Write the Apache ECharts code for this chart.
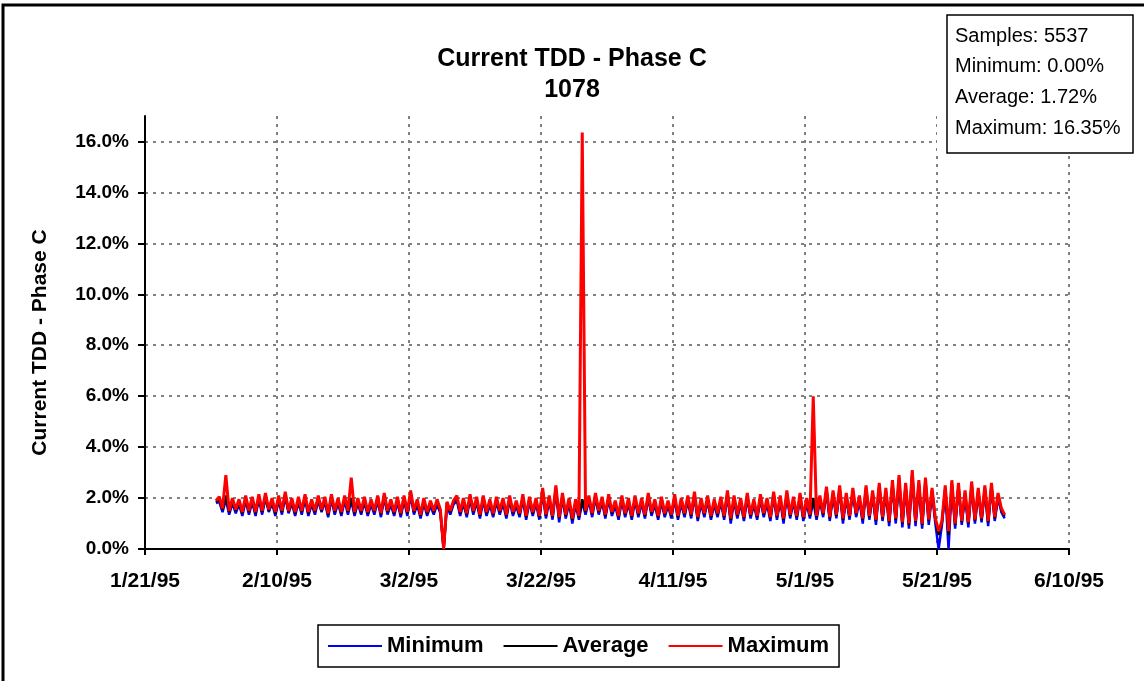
<!DOCTYPE html>
<html><head><meta charset="utf-8">
<script src="https://cdn.jsdelivr.net/npm/echarts@6/dist/echarts.min.js"></script>
<style>html,body{margin:0;padding:0;background:#fff}#c{width:1144px;height:681px}</style>
</head><body><div id="c"></div>
<script>
const FONT = '"Liberation Sans", Arial, sans-serif';
const titleLines = ['Current TDD - Phase C', '1078'];
const yAxisName = 'Current TDD - Phase C';
const statsLines = ['Samples: 5537', 'Minimum: 0.00%', 'Average: 1.72%', 'Maximum: 16.35%'];
const seriesNames = ['Minimum', 'Average', 'Maximum'];
const seriesColors = ['#0000FF', '#000000', '#FF0000'];
const xTickLabels = ['1/21/95', '2/10/95', '3/2/95', '3/22/95', '4/11/95', '5/1/95', '5/21/95', '6/10/95'];
const yTickValues = [0, 2, 4, 6, 8, 10, 12, 14, 16];
// sample times: days after 1/21/95, one reading every half day
const sampleStartDay = 10.75;
const sampleStepDay = 0.5;

const maxValues = [
  1.9,2.05, 1.6,2.9, 1.5,2.0, 1.55,1.95, 1.45,2.1, 1.5,2.05, 1.45,2.15,
  1.5,2.2, 1.55,2.0, 1.45,2.1, 1.5,2.25, 1.5,2.0, 1.45,2.05, 1.5,2.15,
  1.45,1.95, 1.5,2.1, 1.55,2.05, 1.4,2.15, 1.5,2.0, 1.45,2.1, 1.5,2.8,
  1.45,2.0, 1.5,2.05, 1.45,1.95, 1.5,2.1, 1.4,2.2, 1.5,1.95, 1.45,2.05,
  1.4,2.1, 1.45,2.3, 1.5,1.95, 1.35,2.0, 1.45,1.9, 1.5,1.95, 1.55,0,
  1.85,1.5, 1.9,2.1, 1.45,2.0, 1.4,2.15, 1.5,2.05, 1.35,2.1, 1.45,1.95,
  1.4,2.05, 1.5,2.0, 1.35,2.1, 1.45,1.9, 1.4,2.15, 1.3,2.05, 1.45,2.0,
  1.3,2.4, 1.35,2.1, 1.3,2.5, 1.25,2.2, 1.35,2.0, 1.2,1.95, 1.3,16.35,
  1.5,2.1, 1.4,2.2, 1.5,2.05, 1.35,2.15, 1.45,1.9, 1.3,2.1, 1.4,2.0,
  1.3,2.1, 1.4,2.0, 1.35,2.2, 1.45,1.95, 1.3,2.05, 1.4,1.9, 1.35,2.15,
  1.3,2.0, 1.4,2.1, 1.35,2.25, 1.25,2.0, 1.4,2.1, 1.3,1.95, 1.4,2.05,
  1.3,2.3, 1.2,2.1, 1.35,2.0, 1.25,2.2, 1.35,1.95, 1.3,2.15, 1.4,2.0,
  1.25,2.25, 1.3,2.1, 1.2,2.3, 1.35,2.05, 1.3,2.2, 1.25,2.0, 1.35,6.0,
  1.3,2.1, 1.4,2.45, 1.25,2.3, 1.35,2.5, 1.2,2.2, 1.3,2.4, 1.4,2.1,
  1.2,2.5, 1.3,2.3, 1.15,2.6, 1.25,2.4, 1.1,2.7, 1.2,2.9, 1.05,2.6,
  1.0,3.1, 1.1,2.7, 1.0,2.8, 1.15,2.4, 1.2,0.7, 1.1,2.5, 0.7,2.7,
  1.0,2.6, 1.1,2.3, 1.05,2.65, 1.15,2.4, 1.2,2.5, 1.1,2.6, 1.25,2.2,
  1.6,1.35
];
const avgValues = [
  1.85,1.95, 1.55,2.1, 1.45,1.9, 1.5,1.85, 1.4,2.0, 1.45,1.95, 1.4,2.05,
  1.45,2.1, 1.5,1.9, 1.4,2.0, 1.45,2.15, 1.45,1.9, 1.4,1.95, 1.45,2.05,
  1.4,1.85, 1.45,2.0, 1.5,1.95, 1.35,2.05, 1.45,1.9, 1.4,2.0, 1.45,2.0,
  1.4,1.9, 1.45,1.95, 1.4,1.85, 1.45,2.0, 1.35,2.1, 1.45,1.85, 1.4,1.95,
  1.35,2.0, 1.4,2.2, 1.45,1.85, 1.3,1.9, 1.4,1.8, 1.45,1.85, 1.5,0,
  1.8,1.45, 1.85,2.0, 1.4,1.9, 1.35,2.05, 1.45,1.95, 1.3,2.0, 1.4,1.85,
  1.35,1.95, 1.45,1.9, 1.3,2.0, 1.4,1.8, 1.35,2.05, 1.25,1.95, 1.4,1.9,
  1.25,2.3, 1.3,2.0, 1.25,2.4, 1.2,2.1, 1.3,1.9, 1.15,1.85, 1.25,1.95,
  1.45,2.0, 1.35,2.1, 1.45,1.95, 1.3,2.05, 1.4,1.8, 1.25,2.0, 1.35,1.9,
  1.25,2.0, 1.35,1.9, 1.3,2.1, 1.4,1.85, 1.25,1.95, 1.35,1.8, 1.3,2.05,
  1.25,1.9, 1.35,2.0, 1.3,2.15, 1.2,1.9, 1.35,2.0, 1.25,1.85, 1.35,1.95,
  1.25,2.2, 1.15,2.0, 1.3,1.9, 1.2,2.1, 1.3,1.85, 1.25,2.05, 1.35,1.9,
  1.2,2.15, 1.25,2.0, 1.15,2.2, 1.3,1.95, 1.25,2.1, 1.2,1.9, 1.3,2.0,
  1.25,2.0, 1.35,2.35, 1.2,2.2, 1.3,2.4, 1.15,2.1, 1.25,2.3, 1.35,2.0,
  1.15,2.4, 1.25,2.2, 1.1,2.5, 1.2,2.3, 1.05,2.6, 1.15,2.8, 1.0,2.5,
  0.95,3.0, 1.05,2.6, 0.95,2.7, 1.1,2.3, 1.15,0.55, 1.05,2.4, 0.55,2.6,
  0.95,2.5, 1.05,2.2, 1.0,2.55, 1.1,2.3, 1.15,2.4, 1.05,2.5, 1.2,2.1,
  1.55,1.3
];
const minValues = [
  1.8,1.85, 1.45,1.95, 1.35,1.8, 1.4,1.75, 1.3,1.9, 1.35,1.85, 1.3,1.95,
  1.35,2.0, 1.45,1.8, 1.3,1.9, 1.35,2.05, 1.4,1.8, 1.3,1.85, 1.35,1.95,
  1.3,1.75, 1.35,1.9, 1.45,1.85, 1.25,1.95, 1.35,1.8, 1.3,1.9, 1.35,1.9,
  1.3,1.8, 1.35,1.85, 1.3,1.75, 1.35,1.9, 1.25,2.0, 1.35,1.75, 1.3,1.85,
  1.25,1.9, 1.3,2.1, 1.35,1.75, 1.2,1.8, 1.3,1.7, 1.35,1.75, 1.4,0,
  1.7,1.35, 1.75,1.9, 1.3,1.8, 1.25,1.95, 1.35,1.85, 1.2,1.9, 1.3,1.75,
  1.25,1.85, 1.35,1.8, 1.2,1.9, 1.3,1.7, 1.25,1.95, 1.15,1.85, 1.3,1.8,
  1.15,2.2, 1.2,1.9, 1.15,2.3, 1.05,2.0, 1.2,1.8, 1.0,1.75, 1.15,1.85,
  1.35,1.9, 1.25,2.0, 1.35,1.85, 1.2,1.95, 1.3,1.7, 1.15,1.9, 1.25,1.8,
  1.15,1.9, 1.25,1.8, 1.2,2.0, 1.3,1.75, 1.15,1.85, 1.25,1.7, 1.2,1.95,
  1.15,1.8, 1.25,1.9, 1.2,2.05, 1.1,1.8, 1.25,1.9, 1.15,1.75, 1.25,1.85,
  1.15,2.1, 1.0,1.9, 1.2,1.8, 1.1,2.0, 1.2,1.75, 1.15,1.95, 1.25,1.8,
  1.1,2.05, 1.15,1.9, 1.0,2.1, 1.2,1.85, 1.15,2.0, 1.1,1.8, 1.2,1.9,
  1.15,1.9, 1.25,2.25, 1.1,2.1, 1.2,2.3, 1.0,2.0, 1.15,2.2, 1.25,1.9,
  1.0,2.3, 1.15,2.1, 0.95,2.4, 1.1,2.2, 0.9,2.5, 1.0,2.7, 0.85,2.4,
  0.8,2.9, 0.9,2.5, 0.8,2.6, 0.95,2.2, 1.0,0, 0.95,2.3, 0,2.5,
  0.8,2.4, 0.95,2.1, 0.85,2.45, 1.0,2.2, 1.05,2.3, 0.9,2.4, 1.1,2.0,
  1.45,1.2
];

function toPairs(vals) {
  return vals.map((v, i) => [sampleStartDay + i * sampleStepDay, v]);
}
const seriesValues = [minValues, avgValues, maxValues];
const seriesWidths = [2.5, 2.5, 3];

const gridLine = { color: '#808080', width: 2, type: [3, 5] };
const axisLineStyle = { color: '#000', width: 2 };

const chart = echarts.init(document.getElementById('c'), null, { renderer: 'canvas' });
chart.setOption({
  animation: false,
  backgroundColor: '#fff',
  title: {
    text: titleLines.join('\n'),
    left: 'center',
    top: 44,
    padding: [0, 0, 0, 12],
    textStyle: { fontFamily: FONT, fontSize: 25, fontWeight: 'bold', color: '#000', lineHeight: 31 }
  },
  legend: {
    data: seriesNames,
    left: 318,
    top: 625,
    icon: 'rect',
    itemWidth: 54,
    itemHeight: 2,
    itemGap: 20,
    padding: [10, 10],
    borderColor: '#000',
    borderWidth: 1.5,
    selectedMode: false,
    textStyle: { fontFamily: FONT, fontSize: 22, fontWeight: 'bold', color: '#000' }
  },
  grid: { left: 145, right: 75, top: 116, bottom: 132 },
  xAxis: {
    type: 'value',
    min: 0,
    max: 140,
    interval: 20,
    axisLine: { lineStyle: axisLineStyle },
    axisTick: { length: 6, lineStyle: axisLineStyle },
    axisLabel: {
      margin: 22,
      fontFamily: FONT, fontSize: 21, fontWeight: 'bold', color: '#000',
      formatter: v => xTickLabels[Math.round(v / 20)] || ''
    },
    splitLine: { show: true, showMinLine: false, lineStyle: gridLine }
  },
  yAxis: {
    type: 'value',
    min: 0,
    max: 17,
    interval: 2,
    name: yAxisName,
    nameLocation: 'middle',
    nameGap: 94,
    nameRotate: 90,
    nameTextStyle: { fontFamily: FONT, fontSize: 21, fontWeight: 'bold', color: '#000', padding: [0, 20, 0, 0] },
    axisLine: { show: true, lineStyle: axisLineStyle },
    axisTick: { show: true, length: 7, customValues: yTickValues, lineStyle: axisLineStyle },
    axisLabel: {
      margin: 16,
      customValues: yTickValues,
      fontFamily: FONT, fontSize: 19, fontWeight: 'bold', color: '#000',
      formatter: v => v.toFixed(1) + '%'
    },
    splitLine: { show: true, showMinLine: false, lineStyle: gridLine }
  },
  series: seriesNames.map((name, k) => ({
    name: name,
    type: 'line',
    data: toPairs(seriesValues[k]),
    showSymbol: false,
    symbol: 'none',
    sampling: null,
    silent: true,
    color: seriesColors[k],
    lineStyle: { color: seriesColors[k], width: seriesWidths[k] },
    z: 2 + k
  })),
  graphic: [
    { type: 'rect', z: 100, shape: { x: 3, y: 5, width: 1400, height: 900 }, style: { fill: 'none', stroke: '#000', lineWidth: 3 } },
    { type: 'rect', z: 100, shape: { x: 937, y: 8, width: 205, height: 147 }, style: { fill: '#fff' } },
    { type: 'rect', z: 101, shape: { x: 947, y: 15, width: 186, height: 138 }, style: { fill: '#fff', stroke: '#000', lineWidth: 1.5 } },
    ...statsLines.map((t, i) => ({
      type: 'text', z: 102, x: 955, y: 36 + i * 30.7,
      style: { text: t, fill: '#000', font: '20px ' + FONT, textAlign: 'left', textVerticalAlign: 'middle' }
    }))
  ]
});
</script></body></html>
